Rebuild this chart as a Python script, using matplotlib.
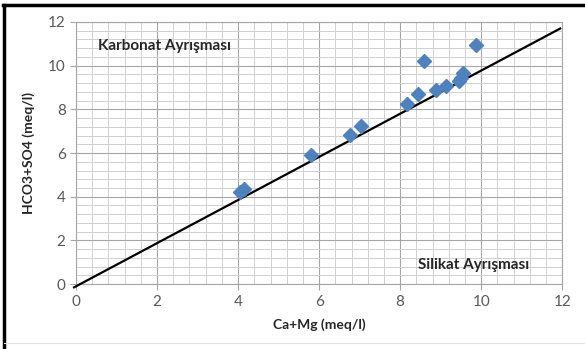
import matplotlib.pyplot as plt
from matplotlib.lines import Line2D
from matplotlib.ticker import MultipleLocator

# data
ca_mg = [4.05, 4.15, 5.80, 6.77, 7.04, 8.18, 8.44, 8.58, 8.88, 9.12, 9.45, 9.50, 9.56, 9.87]
hco3_so4 = [4.22, 4.35, 5.92, 6.83, 7.22, 8.26, 8.70, 10.23, 8.87, 9.08, 9.30, 9.45, 9.66, 10.93]
line_x = [-0.05, 11.95]
line_y = [-0.15, 11.70]

plt.rcParams['font.family'] = ['Lato', 'DejaVu Sans']

fig = plt.figure(figsize=(5.85, 3.49), dpi=100)
ax = fig.add_axes([0.130, 0.186, 0.831, 0.751])

ax.plot(line_x, line_y, c="black", lw=1.6, clip_on=False, zorder=3)
ax.plot(ca_mg, hco3_so4, ls="none", marker="D", ms=7, c="#4F81BD", zorder=4)

ax.set_xlim(0, 12)
ax.set_ylim(0, 12)
ax.xaxis.set_major_locator(MultipleLocator(2))
ax.yaxis.set_major_locator(MultipleLocator(2))
ax.xaxis.set_minor_locator(MultipleLocator(0.4))
ax.yaxis.set_minor_locator(MultipleLocator(0.4))
ax.grid(which="major", color="#a6a6a6", lw=0.8)
ax.grid(which="minor", color="#d0d0d0", lw=0.7)
ax.set_axisbelow(True)
for s in ax.spines.values():
    s.set_color("#a6a6a6")
ax.tick_params(which="minor", length=0)
ax.tick_params(which="major", length=4, color="#a6a6a6", labelcolor="#595959", labelsize=11)

ax.set_xlabel("Ca+Mg (meq/l)", fontsize=10, fontweight="bold", color="#262626", labelpad=7)
ax.set_ylabel("HCO3+SO4 (meq/l)", fontsize=10, fontweight="bold", color="#262626", labelpad=9)

ax.text(0.54, 10.9, "Karbonat Ayrışması", fontsize=11, fontweight="bold", color="#262626", va="center")
ax.text(8.44, 0.87, "Silikat Ayrışması", fontsize=11, fontweight="bold", color="#262626", va="center")

# outer frame like the source screenshot
fig.add_artist(Line2D([0.005, 1.0], [0.986, 0.986], transform=fig.transFigure, c="black", lw=2.5))
fig.add_artist(Line2D([0.007, 0.007], [0.0, 0.986], transform=fig.transFigure, c="black", lw=2.5))
fig.add_artist(Line2D([0.007, 1.0], [0.016, 0.016], transform=fig.transFigure, c="#e0e0e0", lw=0.8))

fig.savefig("out.png", dpi=100)
